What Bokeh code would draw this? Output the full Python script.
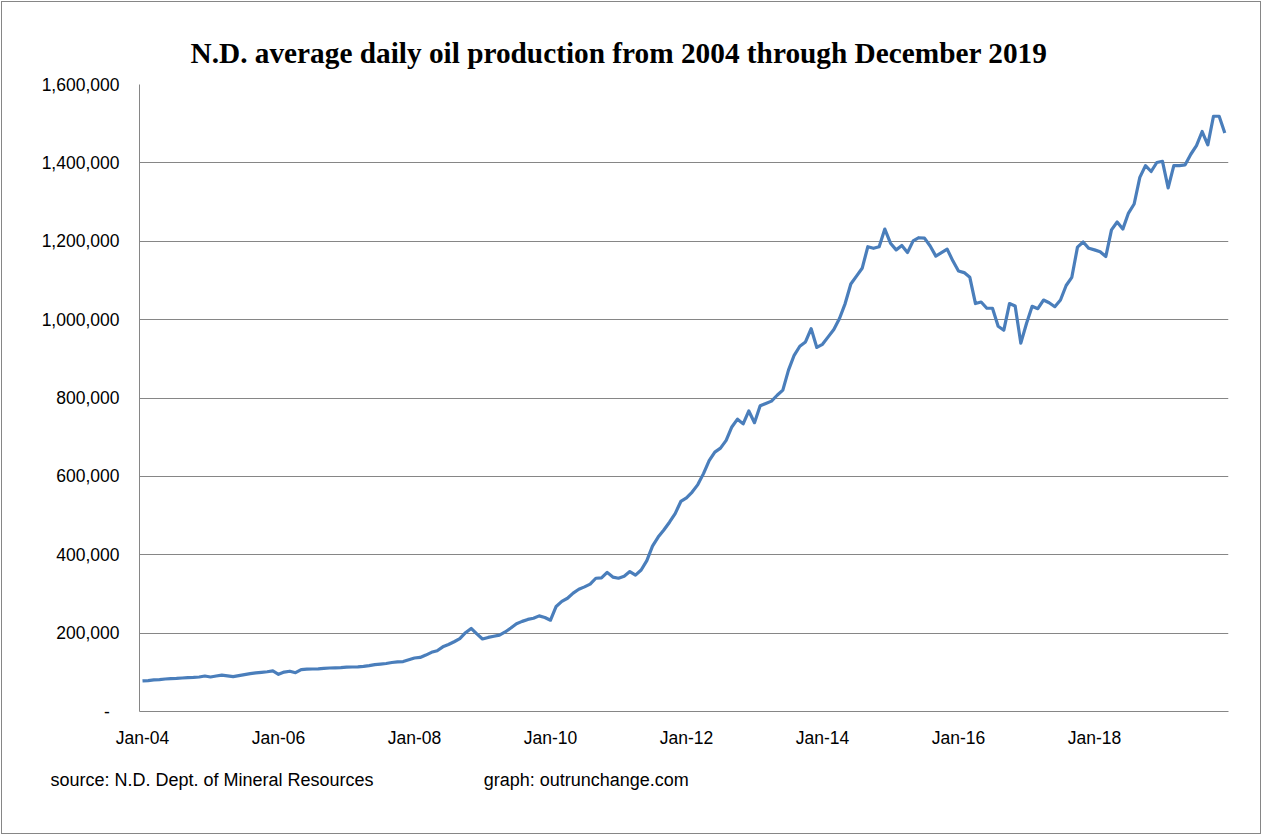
from bokeh.plotting import figure
from bokeh.layouts import column
from bokeh.models import FixedTicker, NumeralTickFormatter, Range1d, Title
from bokeh.embed import file_html
from bokeh.resources import INLINE

title_text = "N.D. average daily oil production from 2004 through December 2019"
source_text = "source: N.D. Dept. of Mineral Resources"
credit_text = "graph: outrunchange.com"

years = list(range(2004, 2020))
month_names = ["Jan", "Feb", "Mar", "Apr", "May", "Jun",
               "Jul", "Aug", "Sep", "Oct", "Nov", "Dec"]

# average daily oil production, barrels per day
bpd_2004 = [78000, 79000, 80500, 81500, 83000, 84000, 84500, 85500, 86500, 87000, 88000, 90500]
bpd_2005 = [88000, 90500, 93000, 91000, 89000, 91500, 94000, 96500, 98500, 100000, 101500, 103500]
bpd_2006 = [95000, 100500, 102800, 99000, 107000, 108000, 108500, 109000, 110000, 111000, 111500, 112000]
bpd_2007 = [113000, 113500, 114000, 115000, 117000, 119500, 121000, 122500, 125000, 126500, 127500, 132000]
bpd_2008 = [136500, 138000, 144000, 151000, 155000, 165000, 171000, 178000, 186000, 201000, 212000, 198000]
bpd_2009 = [185000, 189000, 192000, 195000, 203000, 213000, 224000, 230000, 235000, 238000, 244000, 240000]
bpd_2010 = [233000, 268000, 281000, 289000, 302000, 312000, 318000, 325000, 340000, 341000, 355000, 343000]
bpd_2011 = [340000, 345000, 357000, 348000, 361000, 385000, 422000, 445000, 463000, 483000, 505000, 536000]
bpd_2012 = [545000, 560000, 579000, 607000, 640000, 662000, 672000, 692000, 726000, 746000, 734000, 767000]
bpd_2013 = [737000, 780000, 786000, 792000, 807000, 820000, 871000, 909000, 932000, 943000, 977000, 929000]
bpd_2014 = [937000, 956000, 975000, 1003000, 1041000, 1091000, 1111000, 1131000, 1186000, 1182000, 1186000, 1231000]
bpd_2015 = [1195000, 1178000, 1189000, 1171000, 1201000, 1209000, 1208000, 1188000, 1162000, 1171000, 1180000, 1150000]
bpd_2016 = [1124000, 1120000, 1108000, 1041000, 1045000, 1029000, 1029000, 983000, 973000, 1041000, 1035000, 940000]
bpd_2017 = [990000, 1034000, 1028000, 1050000, 1043000, 1033000, 1050000, 1087000, 1108000, 1185000, 1198000, 1182000]
bpd_2018 = [1178000, 1173000, 1161000, 1229000, 1249000, 1231000, 1272000, 1295000, 1363000, 1393000, 1378000, 1401000]
bpd_2019 = [1404000, 1336000, 1393000, 1393000, 1395000, 1422000, 1444000, 1480000, 1446000, 1519000, 1519000, 1476000]

production = (bpd_2004 + bpd_2005 + bpd_2006 + bpd_2007 + bpd_2008 + bpd_2009 +
              bpd_2010 + bpd_2011 + bpd_2012 + bpd_2013 + bpd_2014 + bpd_2015 +
              bpd_2016 + bpd_2017 + bpd_2018 + bpd_2019)

months = [f"{m}-{y % 100:02d}" for y in years for m in month_names]
month_pos = list(range(len(months)))
tick_labels = [m for m in months if m.startswith("Jan-") and int(m[-2:]) % 2 == 0]
tick_pos = [months.index(t) for t in tick_labels]
y_ticks = [0, 200000, 400000, 600000, 800000, 1000000, 1200000, 1400000, 1600000]

GRAY = "#868686"
LINE = "#4A7EBB"
SANS = "Liberation Sans"
SMALL = "17.5px"

p = figure(width=1258, height=831, output_backend="svg", toolbar_location=None,
           x_range=Range1d(-0.53, 191.65), y_range=Range1d(0, 1600000),
           min_border_left=137, min_border_right=32, min_border_top=82,
           min_border_bottom=122, title=None)
p.background_fill_color = "white"
p.border_fill_color = "white"
p.outline_line_color = None

p.line(month_pos, production, line_color=LINE, line_width=3.2, line_join="round")

p.xgrid.grid_line_color = None
p.ygrid.grid_line_color = GRAY
p.ygrid.grid_line_width = 1
p.ygrid.ticker = FixedTicker(ticks=y_ticks)

p.yaxis.ticker = FixedTicker(ticks=y_ticks)
p.yaxis.formatter = NumeralTickFormatter(format="0,0")
p.yaxis.major_label_overrides = {0: "-\u00a0\u00a0"}
p.xaxis.ticker = FixedTicker(ticks=tick_pos)
p.xaxis.major_label_overrides = {pos: lab for pos, lab in zip(tick_pos, tick_labels)}

for ax in (p.xaxis, p.yaxis):
    ax.axis_line_color = GRAY
    ax.axis_line_width = 1
    ax.major_tick_line_color = None
    ax.minor_tick_line_color = None
    ax.major_tick_out = 0
    ax.major_tick_in = 0
    ax.major_label_text_font = SANS
    ax.major_label_text_font_size = SMALL
    ax.major_label_text_color = "black"
p.yaxis.major_label_standoff = 20
p.xaxis.major_label_standoff = 16

p.add_layout(Title(text=title_text, align="left", offset=51, standoff=32,
                   text_font="Liberation Serif", text_font_style="bold",
                   text_font_size="29.3px", text_color="black"), "above")

gap = "\u00a0" * 22
p.add_layout(Title(text=source_text + gap + credit_text, align="left", offset=-89,
                   standoff=34, text_font=SANS, text_font_style="normal",
                   text_font_size="18px", text_color="black"), "below")

layout = column(p, styles={"border": f"1px solid {GRAY}", "margin": "1px"})

open("out.html", "w").write(file_html(layout, INLINE))
